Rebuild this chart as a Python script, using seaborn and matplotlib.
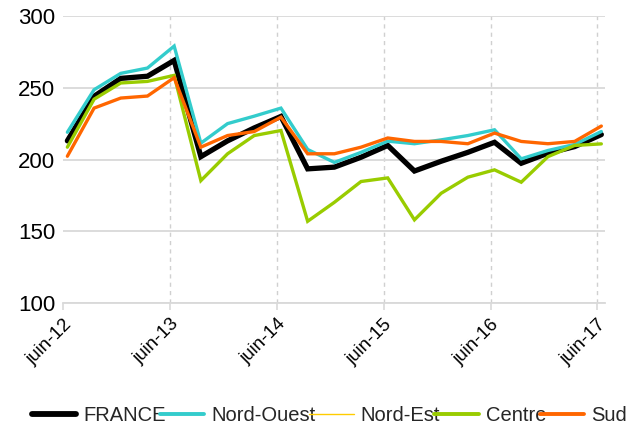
import numpy as np
import pandas as pd
import matplotlib
matplotlib.use('Agg')
import matplotlib.pyplot as plt
from matplotlib.lines import Line2D
import seaborn as sns

# quarterly points from juin-12 to juin-17
periods = list(range(21))
tick_labels = ['juin-12', 'juin-13', 'juin-14', 'juin-15', 'juin-16', 'juin-17']

france = [213, 244, 256.5, 258, 269, 202, 213, 222, 230, 193.5, 194.7,
          201.6, 209.8, 192, 198.8, 205, 212, 197.4, 204.4, 209, 217.4]
nord_ouest = [219, 248.6, 260, 263.7, 279, 211.4, 225, 230.2, 235.8, 207, 198,
              205, 212.8, 211, 213.7, 216.7, 220.7, 200.5, 206.3, 210.5, 219.5]
nord_est = [np.nan] * 21  # no visible values in the chart
centre = [208.6, 242, 253.3, 254.4, 258.6, 185.3, 204, 216.7, 220.2, 157, 170.2,
          184.7, 187.2, 158, 176.5, 187.7, 192.8, 184.2, 202, 209.8, 210.9]
sud = [202.3, 235.8, 242.8, 244.2, 257, 208.6, 216.7, 219.5, 229.5, 204, 204,
       208.6, 215, 212.6, 212.6, 211, 218.4, 212.6, 211, 212.6, 223.3]

series = {
    'FRANCE': (france, '#000000', 3.8),
    'Nord-Ouest': (nord_ouest, '#33CCCC', 2.4),
    'Nord-Est': (nord_est, '#FFCC00', 1.0),
    'Centre': (centre, '#99CC00', 2.4),
    'Sud': (sud, '#FF6600', 2.4),
}

sns.set_style('white')
plt.rcParams['font.family'] = ['Liberation Sans', 'DejaVu Sans']

fig = plt.figure(figsize=(6.4, 4.3), dpi=100)
ax = fig.add_axes([0.099, 0.295, 0.846, 0.668])

handles = []
for name, (vals, color, lw) in series.items():
    df = pd.DataFrame({'x': periods, 'y': vals}).dropna()
    if len(df):
        sns.lineplot(data=df, x='x', y='y', ax=ax, color=color, lw=lw,
                     solid_joinstyle='miter', legend=False)
    handles.append(Line2D([], [], color=color, lw=lw + 0.4 if lw > 1.5 else lw,
                          solid_capstyle='round'))

tick_pos = [4 * k - 0.15 for k in range(len(tick_labels))]
ax.set_xlim(-0.15, 20.13)
ax.set_ylim(100, 300)
ax.set_yticks([100, 150, 200, 250, 300])
ax.set_xticks(tick_pos)
ax.set_xticklabels(tick_labels, rotation=45, ha='right', rotation_mode='anchor')
ax.set_xlabel('')
ax.set_ylabel('')

ax.yaxis.grid(True, color='#d9d9d9', lw=1.3, ls='-')
# dashed vertical gridlines (none at the left edge)
for p in tick_pos[1:]:
    ax.axvline(p, color='#d0d0d0', lw=1.0, ls=(0, (3, 3)), zorder=0)
ax.set_axisbelow(True)
for s in ['top', 'right', 'left']:
    ax.spines[s].set_visible(False)
ax.spines['bottom'].set_color('#d9d9d9')
ax.spines['bottom'].set_linewidth(1.3)

ax.tick_params(axis='y', labelsize=16, length=0, pad=6, labelcolor='#000000')
ax.tick_params(axis='x', labelsize=13.5, length=5, width=1.2, color='#d9d9d9',
               direction='out', pad=4, labelcolor='#000000')
ax.xaxis.set_ticks_position('bottom')

fig.legend(handles, list(series.keys()), loc='center', bbox_to_anchor=(0.515, 0.033),
           ncol=5, frameon=False, fontsize=14.5, handlelength=2.2,
           handletextpad=0.35, columnspacing=-0.3, borderaxespad=0)

fig.savefig('out.png', dpi=100)
